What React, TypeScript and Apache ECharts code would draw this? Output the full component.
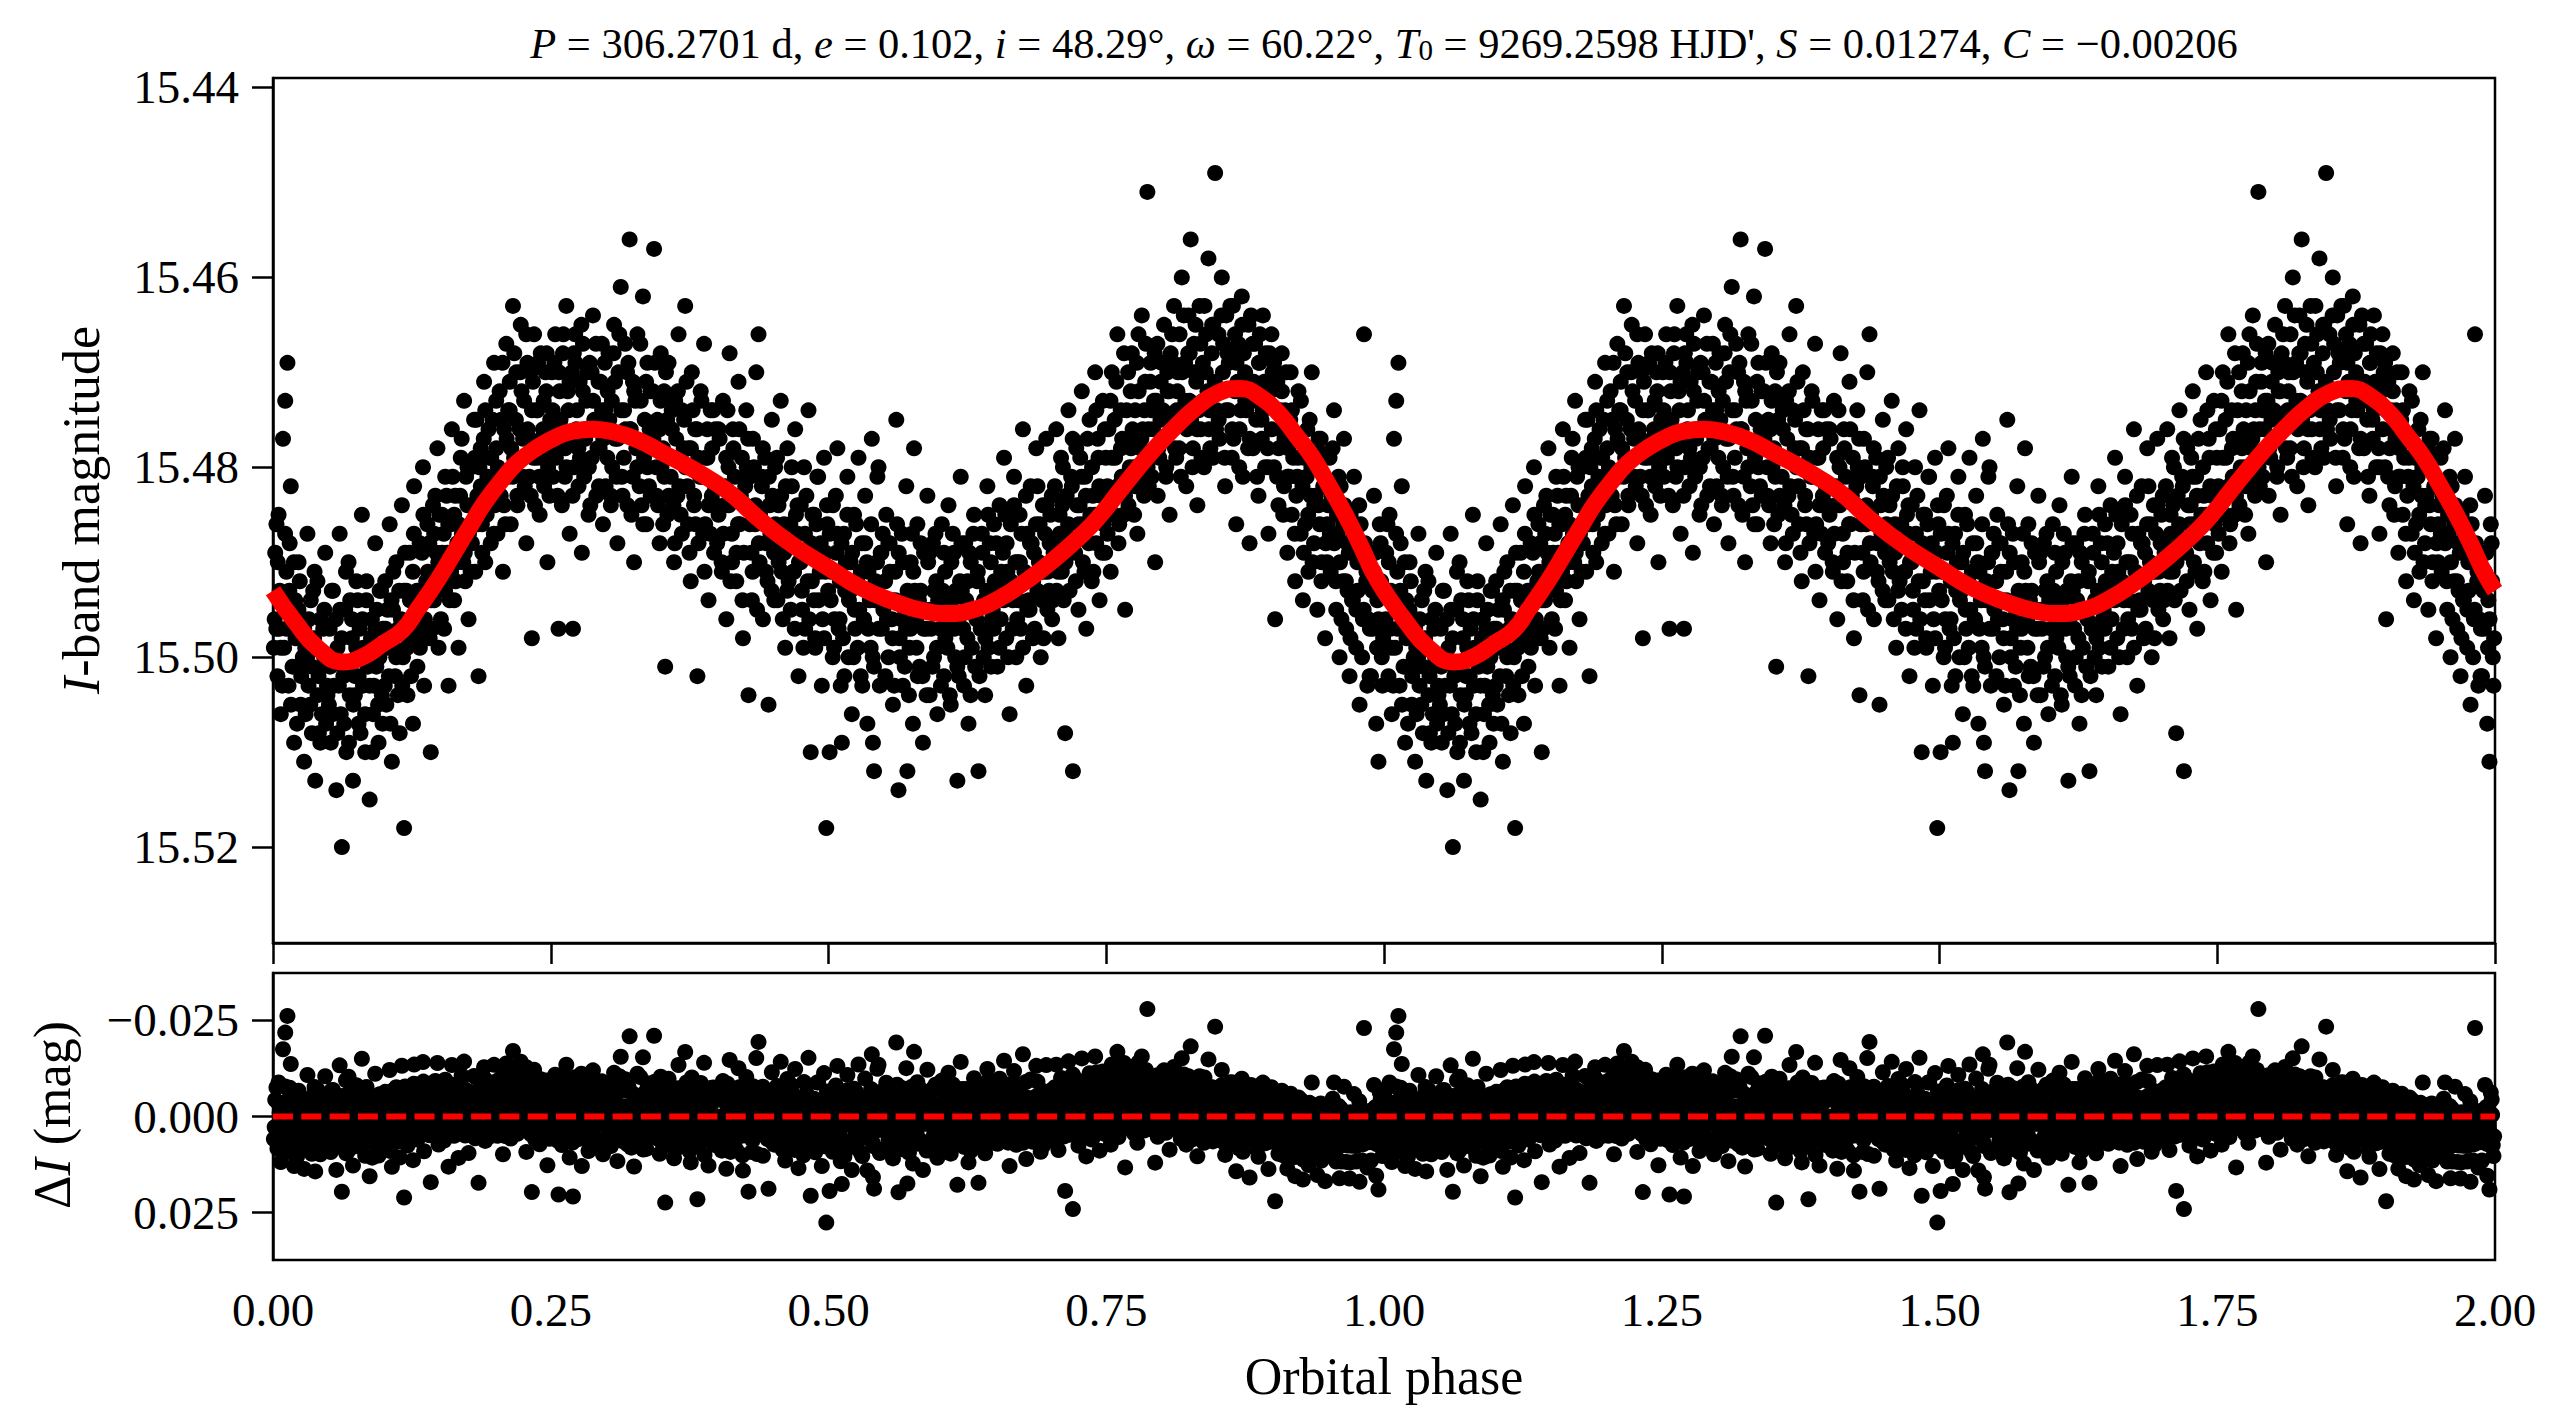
import React, { useEffect, useRef } from "react";
import * as echarts from "echarts";

const FONT = '"Liberation Serif", "Times New Roman", serif';

// Fitted model light curve, one orbital cycle (phase, I mag)
const modelPhase = [0.0, 0.02, 0.04, 0.063, 0.08, 0.1, 0.117, 0.13, 0.148, 0.163, 0.177, 0.19, 0.207, 0.22, 0.238, 0.255, 0.27, 0.288, 0.31, 0.33, 0.348, 0.378, 0.409, 0.438, 0.468, 0.499, 0.528, 0.56, 0.585, 0.607, 0.63, 0.654, 0.68, 0.7, 0.729, 0.745, 0.76, 0.775, 0.79, 0.81, 0.83, 0.85, 0.87, 0.89, 0.906, 0.92, 0.936, 0.95, 0.967, 0.98, 0.99, 1.0];
const modelMag = [15.493, 15.4963, 15.499, 15.5005, 15.5, 15.4985, 15.4971, 15.495, 15.4919, 15.489, 15.4863, 15.4838, 15.4812, 15.4795, 15.4779, 15.4768, 15.4762, 15.476, 15.4764, 15.4772, 15.4783, 15.4802, 15.4825, 15.4855, 15.4882, 15.4905, 15.4926, 15.4942, 15.4951, 15.4954, 15.495, 15.4938, 15.4918, 15.49, 15.487, 15.485, 15.4828, 15.4806, 15.4785, 15.476, 15.4738, 15.4722, 15.4717, 15.4727, 15.4744, 15.4765, 15.479, 15.4818, 15.4854, 15.4885, 15.491, 15.493];

// Observed points, one cycle (phase, I mag); the plot shows the cycle twice (phase 0-1 and 1-2)
const obsCycleA: [number, number][] = [
  [0.002,15.489],[0.003,15.497],[0.004,15.502],[0.005,15.485],[0.006,15.493],[0.007,15.506],[0.009,15.477],[0.010,15.499],[0.011,15.473],[0.012,15.491],[0.013,15.469],[0.014,15.503],[0.015,15.488],[0.016,15.482],[0.018,15.497],[0.019,15.509],[0.020,15.494],[0.022,15.501],[0.023,15.490],[0.025,15.505],[0.026,15.496],[0.028,15.511],[0.029,15.499],[0.031,15.487],[0.032,15.503],[0.034,15.494],[0.035,15.508],[0.037,15.498],[0.038,15.513],[0.040,15.492],[0.041,15.502],[0.043,15.496],[0.044,15.506],[0.046,15.500],[0.047,15.489],[0.049,15.504],
  [0.051,15.497],[0.052,15.509],[0.054,15.493],[0.055,15.503],[0.057,15.514],[0.058,15.499],[0.060,15.487],[0.061,15.506],[0.062,15.520],[0.063,15.501],[0.065,15.495],[0.066,15.510],[0.068,15.490],[0.069,15.504],[0.071,15.498],[0.072,15.513],[0.074,15.502],[0.075,15.492],[0.077,15.507],[0.078,15.497],[0.080,15.485],[0.081,15.503],[0.083,15.510],[0.084,15.494],[0.086,15.500],[0.087,15.515],[0.089,15.496],[0.090,15.506],[0.092,15.488],[0.093,15.501],[0.095,15.509],[0.096,15.493],[0.098,15.504],[0.099,15.497],
  [0.101,15.492],[0.102,15.505],[0.104,15.499],[0.105,15.486],[0.107,15.511],[0.108,15.495],[0.110,15.502],[0.111,15.490],[0.113,15.497],[0.114,15.508],[0.116,15.484],[0.117,15.500],[0.118,15.518],[0.120,15.493],[0.121,15.504],[0.123,15.489],[0.124,15.498],[0.126,15.507],[0.127,15.482],[0.129,15.495],[0.130,15.501],[0.132,15.488],[0.133,15.497],[0.135,15.480],[0.136,15.503],[0.138,15.492],[0.139,15.486],[0.141,15.498],[0.142,15.510],[0.144,15.484],[0.145,15.494],[0.147,15.489],[0.148,15.478],[0.149,15.499],
  [0.151,15.492],[0.152,15.485],[0.154,15.497],[0.155,15.481],[0.157,15.489],[0.158,15.503],[0.160,15.486],[0.161,15.476],[0.163,15.494],[0.164,15.483],[0.166,15.490],[0.167,15.499],[0.169,15.479],[0.170,15.487],[0.172,15.473],[0.173,15.492],[0.175,15.484],[0.176,15.496],[0.178,15.480],[0.179,15.488],[0.181,15.475],[0.182,15.491],[0.184,15.483],[0.185,15.502],[0.187,15.478],[0.188,15.486],[0.190,15.471],[0.191,15.490],[0.193,15.481],[0.194,15.476],[0.196,15.488],[0.197,15.483],[0.199,15.469],
  [0.201,15.478],[0.202,15.487],[0.204,15.472],[0.205,15.483],[0.207,15.491],[0.208,15.476],[0.210,15.467],[0.211,15.481],[0.213,15.474],[0.214,15.486],[0.216,15.463],[0.217,15.479],[0.219,15.470],[0.220,15.484],[0.222,15.476],[0.223,15.465],[0.225,15.481],[0.226,15.473],[0.228,15.488],[0.229,15.469],[0.231,15.477],[0.232,15.483],[0.233,15.498],[0.234,15.471],[0.235,15.466],[0.237,15.479],[0.238,15.474],[0.240,15.485],[0.241,15.468],[0.243,15.476],[0.244,15.482],[0.246,15.472],[0.247,15.490],[0.249,15.478],
  [0.251,15.470],[0.252,15.481],[0.254,15.466],[0.255,15.476],[0.257,15.497],[0.258,15.472],[0.260,15.484],[0.261,15.468],[0.263,15.478],[0.264,15.463],[0.266,15.474],[0.267,15.487],[0.269,15.470],[0.270,15.497],[0.271,15.480],[0.272,15.466],[0.273,15.476],[0.275,15.482],[0.276,15.471],[0.278,15.489],[0.279,15.467],[0.281,15.477],[0.282,15.473],[0.284,15.485],[0.285,15.469],[0.287,15.479],[0.288,15.464],[0.290,15.475],[0.291,15.483],[0.293,15.471],[0.294,15.478],[0.296,15.467],[0.297,15.486],[0.299,15.474],
  [0.301,15.479],[0.302,15.468],[0.304,15.483],[0.305,15.473],[0.307,15.465],[0.308,15.477],[0.310,15.488],[0.311,15.470],[0.313,15.461],[0.314,15.481],[0.316,15.474],[0.317,15.467],[0.319,15.484],[0.321,15.456],[0.322,15.476],[0.324,15.471],[0.325,15.490],[0.327,15.478],[0.328,15.466],[0.330,15.482],[0.331,15.473],[0.333,15.462],[0.334,15.479],[0.336,15.486],[0.337,15.469],[0.339,15.476],[0.340,15.483],[0.342,15.472],[0.343,15.457],[0.345,15.480],[0.346,15.475],[0.348,15.488],[0.349,15.468],
  [0.351,15.478],[0.352,15.472],[0.353,15.501],[0.355,15.485],[0.356,15.469],[0.358,15.481],[0.359,15.476],[0.361,15.490],[0.362,15.473],[0.364,15.483],[0.365,15.466],[0.367,15.479],[0.368,15.487],[0.370,15.475],[0.371,15.463],[0.373,15.482],[0.374,15.478],[0.376,15.492],[0.377,15.470],[0.379,15.484],[0.380,15.476],[0.382,15.502],[0.383,15.488],[0.385,15.472],[0.386,15.481],[0.388,15.467],[0.389,15.486],[0.391,15.479],[0.392,15.494],[0.394,15.474],[0.395,15.483],[0.397,15.489],[0.398,15.476],
  [0.401,15.485],[0.402,15.477],[0.404,15.491],[0.405,15.473],[0.407,15.482],[0.408,15.496],[0.410,15.480],[0.411,15.468],[0.413,15.487],[0.414,15.476],[0.416,15.483],[0.417,15.492],[0.419,15.471],[0.420,15.486],[0.422,15.479],[0.423,15.498],[0.425,15.484],[0.426,15.474],[0.428,15.504],[0.429,15.481],[0.431,15.494],[0.432,15.477],[0.434,15.486],[0.435,15.470],[0.437,15.466],[0.438,15.490],[0.440,15.482],[0.441,15.496],[0.443,15.479],[0.444,15.488],[0.446,15.505],[0.447,15.484],[0.449,15.475],
  [0.451,15.489],[0.452,15.480],[0.454,15.494],[0.455,15.484],[0.457,15.473],[0.458,15.491],[0.460,15.486],[0.461,15.499],[0.463,15.478],[0.464,15.488],[0.466,15.495],[0.467,15.482],[0.469,15.491],[0.470,15.476],[0.472,15.487],[0.473,15.502],[0.475,15.484],[0.476,15.493],[0.478,15.480],[0.479,15.497],[0.481,15.489],[0.482,15.474],[0.484,15.510],[0.485,15.492],[0.487,15.485],[0.488,15.498],[0.490,15.481],[0.491,15.494],[0.493,15.488],[0.494,15.503],[0.496,15.479],[0.497,15.491],[0.498,15.518],[0.499,15.486],
  [0.501,15.510],[0.502,15.494],[0.504,15.484],[0.505,15.499],[0.507,15.489],[0.508,15.478],[0.510,15.496],[0.511,15.503],[0.512,15.509],[0.514,15.487],[0.515,15.493],[0.517,15.481],[0.518,15.500],[0.520,15.490],[0.521,15.506],[0.523,15.485],[0.524,15.497],[0.526,15.492],[0.527,15.479],[0.529,15.502],[0.530,15.488],[0.532,15.496],[0.533,15.483],[0.535,15.507],[0.536,15.491],[0.538,15.499],[0.539,15.477],[0.540,15.509],[0.541,15.512],[0.542,15.494],[0.544,15.481],[0.545,15.480],[0.547,15.489],[0.548,15.497],
  [0.551,15.492],[0.552,15.485],[0.554,15.500],[0.555,15.488],[0.557,15.496],[0.558,15.505],[0.560,15.491],[0.561,15.475],[0.563,15.514],[0.564,15.498],[0.566,15.487],[0.567,15.503],[0.569,15.494],[0.570,15.482],[0.571,15.512],[0.573,15.499],[0.574,15.490],[0.576,15.507],[0.577,15.478],[0.579,15.496],[0.580,15.486],[0.582,15.501],[0.583,15.493],[0.585,15.509],[0.586,15.489],[0.588,15.497],[0.589,15.483],[0.591,15.504],[0.592,15.495],[0.594,15.488],[0.595,15.500],[0.597,15.492],[0.598,15.506],
  [0.601,15.497],[0.602,15.486],[0.604,15.502],[0.605,15.491],[0.607,15.499],[0.608,15.484],[0.610,15.505],[0.611,15.494],[0.613,15.489],[0.614,15.500],[0.616,15.513],[0.617,15.496],[0.619,15.481],[0.620,15.493],[0.622,15.503],[0.623,15.488],[0.625,15.498],[0.626,15.507],[0.628,15.490],[0.629,15.495],[0.631,15.485],[0.632,15.501],[0.634,15.492],[0.635,15.512],[0.637,15.497],[0.638,15.487],[0.640,15.494],[0.641,15.504],[0.643,15.482],[0.644,15.499],[0.646,15.490],[0.647,15.496],[0.649,15.486],
  [0.651,15.493],[0.652,15.501],[0.654,15.484],[0.655,15.496],[0.657,15.489],[0.658,15.479],[0.660,15.498],[0.661,15.491],[0.663,15.506],[0.664,15.486],[0.666,15.494],[0.667,15.481],[0.669,15.500],[0.670,15.490],[0.672,15.485],[0.673,15.497],[0.675,15.476],[0.676,15.492],[0.678,15.503],[0.679,15.487],[0.681,15.495],[0.682,15.482],[0.684,15.498],[0.685,15.489],[0.687,15.478],[0.688,15.493],[0.690,15.486],[0.691,15.500],[0.693,15.484],[0.694,15.491],[0.696,15.477],[0.697,15.495],[0.699,15.488],
  [0.701,15.483],[0.702,15.494],[0.704,15.488],[0.705,15.476],[0.707,15.498],[0.708,15.485],[0.710,15.491],[0.711,15.480],[0.713,15.508],[0.714,15.487],[0.716,15.474],[0.717,15.493],[0.719,15.482],[0.720,15.512],[0.722,15.489],[0.723,15.478],[0.725,15.495],[0.726,15.484],[0.728,15.472],[0.729,15.490],[0.731,15.481],[0.732,15.497],[0.734,15.486],[0.735,15.475],[0.737,15.492],[0.738,15.483],[0.740,15.470],[0.741,15.488],[0.743,15.479],[0.744,15.494],[0.746,15.485],[0.747,15.473],[0.749,15.489],
  [0.751,15.482],[0.752,15.476],[0.754,15.491],[0.755,15.470],[0.757,15.485],[0.758,15.479],[0.760,15.466],[0.761,15.488],[0.763,15.474],[0.764,15.481],[0.766,15.468],[0.767,15.495],[0.769,15.477],[0.770,15.484],[0.772,15.472],[0.773,15.468],[0.775,15.480],[0.776,15.474],[0.778,15.487],[0.779,15.466],[0.781,15.478],[0.782,15.464],[0.784,15.483],[0.785,15.471],[0.787,15.451],[0.788,15.476],[0.790,15.469],[0.791,15.481],[0.793,15.473],[0.794,15.490],[0.796,15.467],[0.797,15.478],[0.799,15.471],
  [0.801,15.474],[0.802,15.465],[0.804,15.480],[0.805,15.470],[0.807,15.485],[0.808,15.468],[0.810,15.476],[0.811,15.463],[0.813,15.479],[0.814,15.472],[0.816,15.466],[0.818,15.460],[0.819,15.475],[0.821,15.469],[0.822,15.482],[0.824,15.464],[0.825,15.473],[0.826,15.456],[0.828,15.478],[0.829,15.467],[0.831,15.471],[0.832,15.484],[0.834,15.463],[0.835,15.476],[0.837,15.469],[0.838,15.480],[0.840,15.466],[0.842,15.458],[0.843,15.474],[0.845,15.468],[0.846,15.479],[0.848,15.449],[0.849,15.472],
  [0.851,15.466],[0.852,15.477],[0.854,15.460],[0.855,15.470],[0.857,15.482],[0.858,15.464],[0.860,15.474],[0.861,15.468],[0.863,15.479],[0.864,15.463],[0.866,15.472],[0.867,15.486],[0.869,15.467],[0.870,15.476],[0.872,15.462],[0.873,15.481],[0.875,15.470],[0.876,15.474],[0.878,15.465],[0.879,15.488],[0.881,15.471],[0.882,15.478],[0.884,15.467],[0.885,15.475],[0.887,15.483],[0.888,15.469],[0.890,15.477],[0.891,15.464],[0.893,15.480],[0.894,15.472],[0.896,15.487],[0.897,15.468],[0.899,15.476],
  [0.901,15.480],[0.902,15.496],[0.904,15.471],[0.905,15.484],[0.907,15.476],[0.908,15.468],[0.910,15.482],[0.911,15.474],[0.913,15.489],[0.914,15.478],[0.916,15.470],[0.917,15.485],[0.919,15.477],[0.920,15.492],[0.922,15.481],[0.923,15.472],[0.925,15.487],[0.927,15.494],[0.928,15.479],[0.929,15.486],[0.931,15.476],[0.932,15.491],[0.934,15.483],[0.935,15.470],[0.937,15.488],[0.938,15.480],[0.940,15.495],[0.941,15.484],[0.943,15.477],[0.944,15.490],[0.946,15.482],[0.947,15.498],[0.949,15.486],
  [0.951,15.479],[0.952,15.491],[0.954,15.484],[0.955,15.474],[0.957,15.495],[0.958,15.487],[0.960,15.500],[0.961,15.482],[0.963,15.492],[0.964,15.477],[0.966,15.497],[0.967,15.488],[0.969,15.502],[0.970,15.485],[0.972,15.494],[0.973,15.481],[0.975,15.499],[0.976,15.490],[0.978,15.505],[0.979,15.486],[0.981,15.496],[0.982,15.466],[0.984,15.492],[0.985,15.503],[0.987,15.502],[0.988,15.489],[0.990,15.497],[0.991,15.483],[0.993,15.507],[0.994,15.494],[0.995,15.511],[0.997,15.488],[0.998,15.500]
];

// Further points in the dense core of the cloud
const obsCycleB: [number, number][] = [
  [0.0015,15.496],[0.0043,15.490],[0.0068,15.499],[0.0094,15.494],[0.0121,15.497],[0.0147,15.493],[0.0176,15.501],[0.0203,15.498],[0.0229,15.495],[0.0254,15.502],[0.0281,15.497],[0.0307,15.500],[0.0336,15.505],[0.0362,15.493],[0.0388,15.499],[0.0413,15.508],[0.0437,15.501],[0.0462,15.495],[0.0486,15.503],
  [0.0514,15.501],[0.0537,15.506],[0.0566,15.496],[0.0593,15.503],[0.0618,15.498],[0.0641,15.507],[0.0672,15.501],[0.0695,15.494],[0.0723,15.505],[0.0749,15.499],[0.0771,15.502],[0.0806,15.496],[0.0829,15.506],[0.0853,15.501],[0.0882,15.498],[0.0907,15.503],[0.0934,15.495],[0.0958,15.500],[0.0986,15.507],
  [0.1012,15.497],[0.1043,15.502],[0.1067,15.494],[0.1091,15.499],[0.1124,15.504],[0.1152,15.496],[0.1178,15.493],[0.1206,15.499],[0.1233,15.494],[0.1259,15.491],[0.1287,15.498],[0.1313,15.493],[0.1341,15.489],[0.1367,15.496],[0.1394,15.491],[0.1422,15.494],[0.1451,15.487],[0.1476,15.492],[0.1497,15.485],
  [0.1522,15.489],[0.1549,15.493],[0.1578,15.486],[0.1603,15.491],[0.1631,15.485],[0.1659,15.488],[0.1684,15.483],[0.1712,15.490],[0.1738,15.481],[0.1764,15.487],[0.1793,15.484],[0.1817,15.479],[0.1846,15.486],[0.1871,15.482],[0.1897,15.477],[0.1923,15.485],[0.1952,15.479],[0.1978,15.475],[0.1996,15.484],
  [0.2024,15.480],[0.2053,15.475],[0.2079,15.484],[0.2103,15.477],[0.2131,15.471],[0.2158,15.481],[0.2186,15.475],[0.2212,15.479],[0.2237,15.472],[0.2266,15.482],[0.2293,15.476],[0.2318,15.470],[0.2343,15.479],[0.2372,15.474],[0.2398,15.481],[0.2421,15.477],[0.2453,15.470],[0.2476,15.480],[0.2495,15.475],
  [0.2518,15.474],[0.2546,15.479],[0.2574,15.470],[0.2601,15.476],[0.2627,15.481],[0.2653,15.472],[0.2684,15.477],[0.2708,15.468],[0.2736,15.474],[0.2763,15.479],[0.2789,15.472],[0.2812,15.476],[0.2843,15.480],[0.2868,15.470],[0.2892,15.475],[0.2921,15.478],[0.2948,15.471],[0.2973,15.477],[0.2994,15.482],
  [0.3027,15.475],[0.3053,15.480],[0.3079,15.471],[0.3102,15.477],[0.3134,15.474],[0.3158,15.479],[0.3187,15.470],[0.3213,15.476],[0.3238,15.481],[0.3262,15.473],[0.3294,15.478],[0.3318,15.484],[0.3346,15.475],[0.3371,15.480],[0.3397,15.472],[0.3424,15.477],[0.3452,15.483],[0.3478,15.476],[0.3496,15.480],
  [0.3523,15.481],[0.3548,15.475],[0.3576,15.479],[0.3604,15.484],[0.3629,15.477],[0.3657,15.482],[0.3681,15.474],[0.3713,15.480],[0.3736,15.486],[0.3762,15.478],[0.3791,15.483],[0.3817,15.476],[0.3843,15.481],[0.3872,15.487],[0.3896,15.479],[0.3921,15.484],[0.3953,15.478],[0.3977,15.482],[0.3998,15.488],
  [0.4026,15.482],[0.4054,15.487],[0.4079,15.479],[0.4103,15.484],[0.4132,15.490],[0.4157,15.481],[0.4186,15.486],[0.4211,15.483],[0.4238,15.489],[0.4264,15.480],[0.4293,15.486],[0.4317,15.491],[0.4342,15.484],[0.4373,15.488],[0.4398,15.481],[0.4424,15.486],[0.4451,15.492],[0.4477,15.487],[0.4496,15.483],
  [0.4523,15.486],[0.4551,15.490],[0.4574,15.483],[0.4602,15.489],[0.4628,15.493],[0.4656,15.486],[0.4683,15.491],[0.4707,15.485],[0.4734,15.490],[0.4762,15.495],[0.4788,15.487],[0.4813,15.492],[0.4844,15.488],[0.4869,15.494],[0.4892,15.486],[0.4921,15.491],[0.4947,15.496],[0.4973,15.489],[0.4997,15.493],
  [0.5024,15.491],[0.5053,15.496],[0.5077,15.487],[0.5102,15.492],[0.5131,15.498],[0.5156,15.490],[0.5184,15.494],[0.5213,15.489],[0.5236,15.495],[0.5263,15.499],[0.5291,15.491],[0.5317,15.496],[0.5346,15.490],[0.5372,15.494],[0.5398,15.500],[0.5423,15.492],[0.5452,15.497],[0.5476,15.489],[0.5494,15.495],
  [0.5526,15.496],[0.5553,15.491],[0.5577,15.498],[0.5604,15.494],[0.5632,15.489],[0.5657,15.496],[0.5686,15.501],[0.5712,15.493],[0.5738,15.497],[0.5763,15.491],[0.5792,15.499],[0.5814,15.494],[0.5846,15.502],[0.5871,15.495],[0.5897,15.490],[0.5923,15.497],[0.5951,15.493],[0.5976,15.499],[0.5998,15.495],
  [0.6027,15.493],[0.6052,15.498],[0.6081,15.494],[0.6106,15.490],[0.6133,15.497],[0.6159,15.501],[0.6184,15.492],[0.6212,15.497],[0.6239,15.494],[0.6267,15.489],[0.6291,15.499],[0.6318,15.495],[0.6344,15.491],[0.6373,15.497],[0.6397,15.500],[0.6426,15.493],[0.6452,15.488],[0.6478,15.495],[0.6496,15.492],
  [0.6523,15.496],[0.6554,15.491],[0.6578,15.494],[0.6603,15.488],[0.6631,15.493],[0.6658,15.497],[0.6683,15.490],[0.6712,15.494],[0.6737,15.487],[0.6764,15.491],[0.6789,15.495],[0.6813,15.488],[0.6842,15.492],[0.6868,15.486],[0.6894,15.490],[0.6923,15.494],[0.6949,15.487],[0.6973,15.491],[0.6997,15.485],
  [0.7026,15.489],[0.7053,15.493],[0.7082,15.487],[0.7104,15.484],[0.7133,15.490],[0.7157,15.486],[0.7184,15.481],[0.7212,15.488],[0.7238,15.484],[0.7266,15.479],[0.7291,15.486],[0.7317,15.483],[0.7343,15.488],[0.7372,15.480],[0.7398,15.485],[0.7423,15.477],[0.7452,15.483],[0.7477,15.486],[0.7496,15.479],
  [0.7524,15.484],[0.7551,15.479],[0.7576,15.475],[0.7603,15.482],[0.7632,15.478],[0.7658,15.485],[0.7684,15.474],[0.7712,15.480],[0.7737,15.476],[0.7763,15.482],[0.7791,15.472],[0.7816,15.477],[0.7843,15.474],[0.7872,15.480],[0.7896,15.471],[0.7923,15.476],[0.7952,15.473],[0.7977,15.479],[0.7998,15.469],
  [0.8026,15.477],[0.8053,15.472],[0.8078,15.475],[0.8102,15.469],[0.8134,15.474],[0.8157,15.478],[0.8183,15.470],[0.8212,15.473],[0.8238,15.468],[0.8264,15.475],[0.8292,15.470],[0.8318,15.476],[0.8347,15.467],[0.8371,15.473],[0.8396,15.470],[0.8424,15.476],[0.8453,15.465],[0.8477,15.471],[0.8497,15.474],
  [0.8523,15.472],[0.8552,15.467],[0.8577,15.474],[0.8603,15.469],[0.8634,15.476],[0.8659,15.466],[0.8681,15.471],[0.8712,15.474],[0.8738,15.468],[0.8764,15.472],[0.8792,15.477],[0.8817,15.467],[0.8843,15.473],[0.8874,15.469],[0.8897,15.475],[0.8921,15.471],[0.8953,15.478],[0.8976,15.472],[0.8998,15.470],
  [0.9024,15.474],[0.9052,15.478],[0.9081,15.472],[0.9104,15.477],[0.9132,15.481],[0.9156,15.475],[0.9183,15.479],[0.9211,15.483],[0.9237,15.477],[0.9266,15.482],[0.9291,15.478],[0.9318,15.485],[0.9346,15.480],[0.9372,15.484],[0.9398,15.478],[0.9421,15.486],[0.9453,15.482],[0.9476,15.488],[0.9497,15.484],
  [0.9526,15.483],[0.9552,15.488],[0.9577,15.485],[0.9604,15.490],[0.9632,15.486],[0.9657,15.492],[0.9683,15.489],[0.9712,15.494],[0.9738,15.488],[0.9763,15.493],[0.9791,15.490],[0.9817,15.495],[0.9842,15.491],[0.9873,15.497],[0.9896,15.493],[0.9922,15.489],[0.9951,15.496],[0.9974,15.492],[0.9992,15.498]
];

// Points in the wider body of the cloud
const obsCycleC: [number, number][] = [
  [0.0008,15.499],[0.0031,15.486],[0.0057,15.497],[0.0083,15.503],[0.0109,15.487],[0.0134,15.495],[0.0162,15.505],[0.0188,15.490],[0.0216,15.507],[0.0241,15.492],[0.0268,15.500],[0.0294,15.506],[0.0322,15.496],[0.0349,15.501],[0.0374,15.491],[0.0401,15.504],[0.0426,15.509],[0.0452,15.497],[0.0478,15.507],
  [0.0503,15.505],[0.0529,15.493],[0.0551,15.500],[0.0579,15.508],[0.0604,15.495],[0.0633,15.502],[0.0657,15.491],[0.0684,15.509],[0.0711,15.496],[0.0737,15.504],[0.0762,15.494],[0.0788,15.508],[0.0814,15.499],[0.0842,15.492],[0.0869,15.503],[0.0893,15.510],[0.0921,15.497],[0.0946,15.505],[0.0973,15.493],
  [0.1006,15.503],[0.1031,15.495],[0.1057,15.507],[0.1083,15.491],[0.1109,15.500],[0.1136,15.493],[0.1163,15.503],[0.1189,15.489],[0.1214,15.497],[0.1242,15.502],[0.1268,15.487],[0.1296,15.493],[0.1322,15.499],[0.1354,15.485],[0.1378,15.494],[0.1407,15.488],[0.1433,15.497],[0.1461,15.483],[0.1488,15.490],
  [0.1511,15.496],[0.1537,15.487],[0.1562,15.483],[0.1591,15.494],[0.1617,15.481],[0.1644,15.492],[0.1672,15.486],[0.1698,15.477],[0.1726,15.489],[0.1751,15.480],[0.1779,15.491],[0.1804,15.484],[0.1832,15.475],[0.1858,15.480],[0.1884,15.489],[0.1911,15.474],[0.1937,15.483],[0.1964,15.479],[0.1988,15.487],
  [0.2009,15.473],[0.2037,15.481],[0.2066,15.469],[0.2091,15.486],[0.2117,15.474],[0.2144,15.478],[0.2172,15.468],[0.2199,15.483],[0.2224,15.470],[0.2251,15.477],[0.2279,15.466],[0.2307,15.481],[0.2331,15.474],[0.2358,15.484],[0.2386,15.469],[0.2412,15.479],[0.2437,15.473],[0.2464,15.468],[0.2488,15.483],
  [0.2507,15.478],[0.2533,15.469],[0.2561,15.483],[0.2588,15.475],[0.2614,15.466],[0.2641,15.480],[0.2669,15.471],[0.2696,15.483],[0.2722,15.469],[0.2749,15.478],[0.2776,15.465],[0.2801,15.481],[0.2828,15.470],[0.2856,15.484],[0.2881,15.473],[0.2907,15.467],[0.2934,15.482],[0.2962,15.474],[0.2986,15.469],
  [0.3012,15.472],[0.3041,15.484],[0.3066,15.468],[0.3093,15.481],[0.3117,15.466],[0.3146,15.483],[0.3172,15.476],[0.3199,15.469],[0.3226,15.485],[0.3251,15.472],[0.3279,15.480],[0.3306,15.467],[0.3333,15.486],[0.3358,15.471],[0.3384,15.482],[0.3411,15.476],[0.3437,15.469],[0.3466,15.484],[0.3489,15.473],
  [0.3512,15.486],[0.3537,15.470],[0.3563,15.483],[0.3589,15.474],[0.3617,15.488],[0.3644,15.472],[0.3669,15.485],[0.3697,15.478],[0.3722,15.471],[0.3749,15.489],[0.3777,15.474],[0.3803,15.486],[0.3828,15.479],[0.3856,15.473],[0.3884,15.491],[0.3909,15.476],[0.3936,15.487],[0.3962,15.474],[0.3987,15.484],
  [0.4011,15.476],[0.4038,15.490],[0.4064,15.484],[0.4091,15.474],[0.4118,15.492],[0.4144,15.478],[0.4172,15.489],[0.4197,15.476],[0.4226,15.494],[0.4251,15.482],[0.4277,15.477],[0.4306,15.489],[0.4329,15.480],[0.4357,15.495],[0.4384,15.485],[0.4409,15.478],[0.4437,15.491],[0.4463,15.481],[0.4488,15.493],
  [0.4512,15.494],[0.4537,15.479],[0.4563,15.488],[0.4588,15.496],[0.4616,15.482],[0.4641,15.492],[0.4669,15.480],[0.4696,15.497],[0.4721,15.484],[0.4749,15.490],[0.4774,15.499],[0.4801,15.483],[0.4827,15.496],[0.4856,15.485],[0.4881,15.499],[0.4907,15.481],[0.4934,15.489],[0.4961,15.498],[0.4986,15.484],
  [0.5011,15.487],[0.5038,15.500],[0.5066,15.483],[0.5091,15.497],[0.5117,15.488],[0.5143,15.502],[0.5169,15.485],[0.5198,15.493],[0.5224,15.500],[0.5249,15.486],[0.5277,15.495],[0.5304,15.503],[0.5331,15.488],[0.5358,15.497],[0.5384,15.486],[0.5409,15.501],[0.5437,15.490],[0.5462,15.503],[0.5488,15.487],
  [0.5512,15.502],[0.5539,15.488],[0.5566,15.494],[0.5592,15.503],[0.5617,15.486],[0.5643,15.500],[0.5671,15.490],[0.5698,15.497],[0.5724,15.504],[0.5751,15.487],[0.5777,15.493],[0.5803,15.502],[0.5829,15.488],[0.5857,15.497],[0.5883,15.504],[0.5909,15.489],[0.5936,15.501],[0.5963,15.487],[0.5987,15.494],
  [0.6012,15.503],[0.6039,15.489],[0.6066,15.496],[0.6092,15.504],[0.6119,15.487],[0.6146,15.493],[0.6172,15.502],[0.6197,15.488],[0.6226,15.500],[0.6253,15.492],[0.6279,15.504],[0.6304,15.487],[0.6331,15.496],[0.6359,15.502],[0.6384,15.489],[0.6412,15.498],[0.6437,15.485],[0.6463,15.501],[0.6487,15.497],
  [0.6511,15.488],[0.6538,15.499],[0.6566,15.492],[0.6591,15.485],[0.6617,15.500],[0.6643,15.492],[0.6671,15.484],[0.6698,15.496],[0.6723,15.490],[0.6751,15.499],[0.6777,15.483],[0.6803,15.494],[0.6829,15.488],[0.6856,15.497],[0.6881,15.482],[0.6908,15.491],[0.6936,15.498],[0.6962,15.484],[0.6986,15.493],
  [0.7013,15.496],[0.7038,15.482],[0.7067,15.491],[0.7093,15.479],[0.7117,15.494],[0.7144,15.483],[0.7171,15.489],[0.7198,15.477],[0.7226,15.492],[0.7252,15.486],[0.7278,15.481],[0.7304,15.491],[0.7331,15.477],[0.7357,15.485],[0.7384,15.491],[0.7411,15.474],[0.7437,15.482],[0.7463,15.489],[0.7488,15.476],
  [0.7512,15.487],[0.7538,15.473],[0.7566,15.483],[0.7591,15.471],[0.7617,15.486],[0.7643,15.477],[0.7669,15.483],[0.7697,15.470],[0.7723,15.478],[0.7751,15.485],[0.7776,15.469],[0.7803,15.481],[0.7829,15.476],[0.7857,15.467],[0.7883,15.482],[0.7909,15.474],[0.7936,15.468],[0.7963,15.483],[0.7988,15.475],
  [0.8011,15.469],[0.8038,15.481],[0.8066,15.472],[0.8093,15.466],[0.8118,15.478],[0.8146,15.470],[0.8171,15.481],[0.8198,15.464],[0.8226,15.476],[0.8251,15.468],[0.8277,15.480],[0.8304,15.465],[0.8331,15.474],[0.8357,15.479],[0.8384,15.463],[0.8411,15.472],[0.8437,15.478],[0.8463,15.465],[0.8488,15.476],
  [0.8512,15.475],[0.8538,15.464],[0.8566,15.479],[0.8591,15.468],[0.8617,15.463],[0.8646,15.477],[0.8672,15.469],[0.8697,15.480],[0.8724,15.465],[0.8751,15.473],[0.8777,15.478],[0.8803,15.464],[0.8829,15.471],[0.8857,15.481],[0.8883,15.466],[0.8908,15.474],[0.8936,15.468],[0.8961,15.480],[0.8987,15.466],
  [0.9011,15.469],[0.9038,15.481],[0.9066,15.474],[0.9093,15.485],[0.9119,15.470],[0.9146,15.481],[0.9171,15.474],[0.9197,15.487],[0.9226,15.479],[0.9252,15.473],[0.9278,15.489],[0.9304,15.481],[0.9331,15.475],[0.9357,15.490],[0.9384,15.483],[0.9411,15.477],[0.9437,15.492],[0.9463,15.479],[0.9488,15.490],
  [0.9512,15.487],[0.9538,15.478],[0.9566,15.492],[0.9591,15.481],[0.9617,15.496],[0.9644,15.484],[0.9672,15.493],[0.9698,15.498],[0.9723,15.487],[0.9751,15.495],[0.9777,15.484],[0.9803,15.500],[0.9829,15.488],[0.9857,15.496],[0.9883,15.502],[0.9908,15.491],[0.9937,15.499],[0.9962,15.486],[0.9986,15.503]
];

const cycleOffsets = [0, 1];
const magTicks = [15.44, 15.46, 15.48, 15.5, 15.52];
const resTicks = [-0.025, 0, 0.025];
const zeroLine = [[0, 0], [2, 0]];

const GRID_LEFT = 273;
const GRID_W = 2222;

function modelAt(p: number): number {
  for (let k = 1; k < modelPhase.length; k++) {
    if (p <= modelPhase[k]) {
      const a = modelPhase[k - 1], b = modelPhase[k];
      const t = (p - a) / (b - a);
      return modelMag[k - 1] + t * (modelMag[k] - modelMag[k - 1]);
    }
  }
  return modelMag[modelMag.length - 1];
}

export default function App() {
  const ref = useRef<HTMLDivElement>(null);

  useEffect(() => {
    if (!ref.current) return;
    const chart = echarts.init(ref.current, undefined, { renderer: "svg" });

    const allObs = [...obsCycleA, ...obsCycleB, ...obsCycleC];
    const obsData: number[][] = [];
    const resData: number[][] = [];
    const modelData: number[][] = [];
    cycleOffsets.forEach((off) => {
      allObs.forEach(([p, m]) => {
        obsData.push([p + off, m]);
        resData.push([p + off, m - modelAt(p)]);
      });
      modelPhase.forEach((p, k) => {
        if (off > 0 && k === 0) return;
        modelData.push([p + off, modelMag[k]]);
      });
    });

    const tickStyle = { show: true, inside: false, length: 21, lineStyle: { color: "#000", width: 2.5 } };
    const lineStyle = { show: true, lineStyle: { color: "#000", width: 2.5 } };
    const labelStyle = { color: "#000", fontFamily: FONT, fontSize: 47 };

    const xBase = {
      type: "value",
      min: 0,
      max: 2,
      interval: 0.25,
      axisLine: lineStyle,
      axisTick: tickStyle,
      splitLine: { show: false },
    };

    const dotStyle = { color: "#000", opacity: 1 };

    const option: any = {
      animation: false,
      backgroundColor: "#fff",
      grid: [
        { left: GRID_LEFT, top: 78, width: GRID_W, height: 865, show: true, borderColor: "#000", borderWidth: 2.5, backgroundColor: "transparent" },
        { left: GRID_LEFT, top: 973, width: GRID_W, height: 287, show: true, borderColor: "#000", borderWidth: 2.5, backgroundColor: "transparent" },
      ],
      xAxis: [
        { ...xBase, gridIndex: 0, axisLabel: { show: false } },
        {
          ...xBase,
          gridIndex: 1,
          axisLabel: { ...labelStyle, margin: 26, formatter: (v: number) => v.toFixed(2) },
        },
      ],
      yAxis: [
        {
          type: "value",
          gridIndex: 0,
          min: 15.439,
          max: 15.5301,
          inverse: true,
          axisLine: lineStyle,
          axisTick: { ...tickStyle, customValues: magTicks },
          axisLabel: { ...labelStyle, margin: 34, customValues: magTicks, formatter: (v: number) => v.toFixed(2) },
          splitLine: { show: false },
        },
        {
          type: "value",
          gridIndex: 1,
          min: -0.0373,
          max: 0.0373,
          inverse: true,
          axisLine: lineStyle,
          axisTick: { ...tickStyle, customValues: resTicks },
          axisLabel: {
            ...labelStyle,
            margin: 34,
            customValues: resTicks,
            formatter: (v: number) => (v < -1e-9 ? "\u2212" + Math.abs(v).toFixed(3) : Math.abs(v).toFixed(3)),
          },
          splitLine: { show: false },
        },
      ],
      graphic: [
        {
          type: "text",
          x: 1384,
          y: 43,
          style: {
            text:
              "{i|P} = 306.2701 d, {i|e} = 0.102, {i|i} = 48.29°, {i|ω} = 60.22°, {i|T}{sub|0} = 9269.2598 HJD', {i|S} = 0.01274, {i|C} = \u22120.00206",
            fontFamily: FONT,
            fontSize: 42.5,
            fill: "#000",
            align: "center",
            verticalAlign: "middle",
            rich: {
              i: { fontFamily: FONT, fontSize: 42.5, fontStyle: "italic", fill: "#000" },
              sub: { fontFamily: FONT, fontSize: 29, fill: "#000", verticalAlign: "bottom", lineHeight: 30 },
            },
          },
        },
        {
          type: "text",
          x: 81,
          y: 510,
          rotation: Math.PI / 2,
          style: {
            text: "{i|I}-band magnitude",
            fontFamily: FONT,
            fontSize: 52,
            fill: "#000",
            align: "center",
            verticalAlign: "middle",
            rich: { i: { fontFamily: FONT, fontSize: 52, fontStyle: "italic", fill: "#000" } },
          },
        },
        {
          type: "text",
          x: 52,
          y: 1115,
          rotation: Math.PI / 2,
          style: {
            text: "Δ{i|I} (mag)",
            fontFamily: FONT,
            fontSize: 52,
            fill: "#000",
            align: "center",
            verticalAlign: "middle",
            rich: { i: { fontFamily: FONT, fontSize: 52, fontStyle: "italic", fill: "#000" } },
          },
        },
        {
          type: "text",
          x: 1384,
          y: 1376,
          style: {
            text: "Orbital phase",
            fontFamily: FONT,
            fontSize: 52,
            fill: "#000",
            align: "center",
            verticalAlign: "middle",
          },
        },
      ],
      series: [
        {
          type: "scatter",
          xAxisIndex: 0,
          yAxisIndex: 0,
          data: obsData,
          symbol: "circle",
          symbolSize: 16,
          itemStyle: dotStyle,
          z: 2,
          silent: true,
        },
        {
          type: "line",
          xAxisIndex: 0,
          yAxisIndex: 0,
          data: modelData,
          showSymbol: false,
          smooth: true,
          lineStyle: { color: "#ff0000", width: 17, cap: "butt", join: "round" },
          z: 3,
          silent: true,
        },
        {
          type: "scatter",
          xAxisIndex: 1,
          yAxisIndex: 1,
          data: resData,
          symbol: "circle",
          symbolSize: 16,
          itemStyle: dotStyle,
          z: 2,
          silent: true,
        },
        {
          type: "line",
          xAxisIndex: 1,
          yAxisIndex: 1,
          data: zeroLine,
          showSymbol: false,
          lineStyle: { color: "#ff0000", width: 6, type: [20, 8.3], cap: "butt" },
          z: 3,
          silent: true,
        },
      ],
    };

    chart.setOption(option);
    return () => chart.dispose();
  }, []);

  return (
    <div
      ref={ref}
      style={{ position: "fixed", left: 0, top: 0, width: 2563, height: 1428, background: "#fff" }}
    />
  );
}
